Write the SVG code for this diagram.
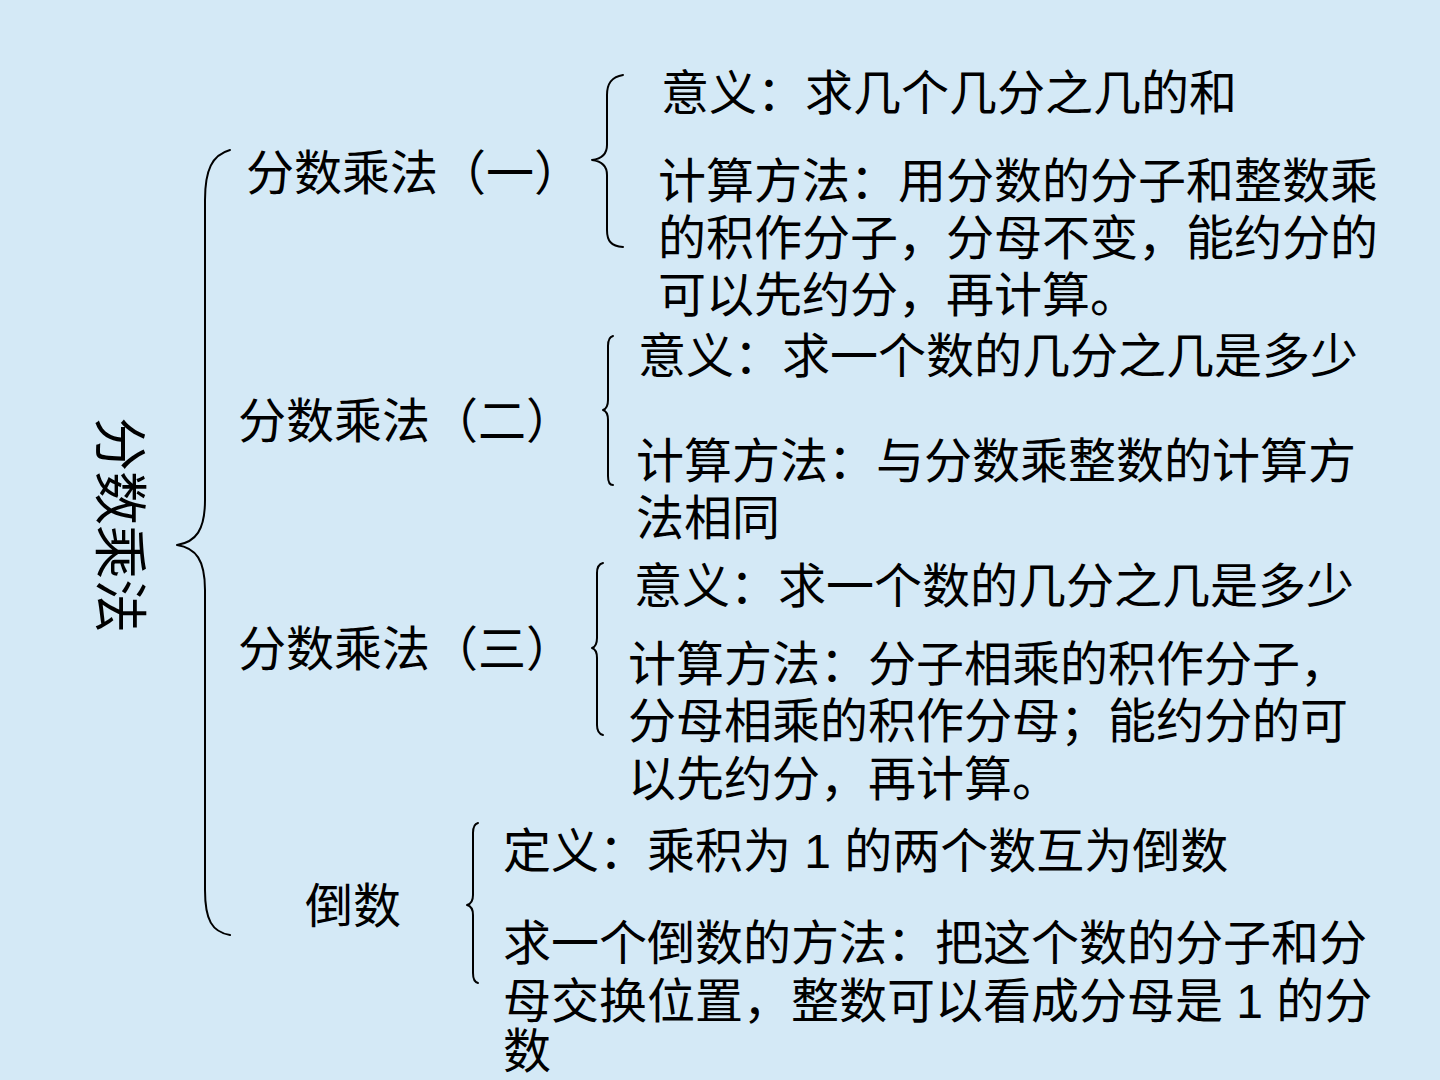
<svg xmlns="http://www.w3.org/2000/svg" width="1440" height="1080" viewBox="0 0 1440 1080">
<style>
.t{font-family:"Liberation Sans","Noto Sans CJK SC",sans-serif;font-size:48px;fill:#000;}
.title{font-family:"Noto Sans CJK SC",sans-serif;font-size:54px;fill:#000;}
.br{fill:none;stroke:#000;stroke-width:2;stroke-linecap:round;stroke-linejoin:round;}
</style>
<rect x="0" y="0" width="1440" height="1080" fill="#d4e9f6"/>
<g id="connectors">
<path class="br" d="M230,150 C212,155 205,170 205,200 L205,500 C205,530 196,542 177,545 C196,548 205,560 205,590 L205,890 C205,920 212,932 230,935"/>
<path class="br" d="M623,75 C611,77 607,84 607,95 L607,145 C607,155 600,159 592,160 C600,161 607,165 607,175 L607,230 C607,241 611,246 623,247"/>
<path class="br" d="M613,336 C609,337 608,340 608,346 L608,400 C608,406 606,409 603,410 C606,411 608,414 608,420 L608,476 C608,482 609,485 613,485"/>
<path class="br" d="M603,563 C599,564 597,567 597,573 L597,638 C597,644 595,647 592,648 C595,649 597,652 597,658 L597,725 C597,731 599,734 603,735"/>
<path class="br" d="M478,823 C474,824 473,827 473,833 L473,895 C473,901 471,904 467,905 C471,906 473,909 473,915 L473,973 C473,979 474,982 478,983"/>
</g>
<g id="root">
<text class="title" transform="translate(120,525) rotate(90)" x="0" y="20" text-anchor="middle">分数乘法</text>
</g>
<g id="n1">
<text class="t" x="246" y="190">分数乘法（一）</text>
</g>
<g id="n1a">
<text class="t" x="661" y="110">意义：求几个几分之几的和</text>
</g>
<g id="n1b">
<text class="t" x="658" y="198">计算方法：用分数的分子和整数乘</text>
<text class="t" x="658" y="255">的积作分子，分母不变，能约分的</text>
<text class="t" x="658" y="312">可以先约分，再计算。</text>
</g>
<g id="n2">
<text class="t" x="238" y="438">分数乘法（二）</text>
</g>
<g id="n2a">
<text class="t" x="638" y="373">意义：求一个数的几分之几是多少</text>
</g>
<g id="n2b">
<text class="t" x="636" y="478">计算方法：与分数乘整数的计算方</text>
<text class="t" x="636" y="535">法相同</text>
</g>
<g id="n3">
<text class="t" x="238" y="666">分数乘法（三）</text>
</g>
<g id="n3a">
<text class="t" x="634" y="603">意义：求一个数的几分之几是多少</text>
</g>
<g id="n3b">
<text class="t" x="628" y="681">计算方法：分子相乘的积作分子，</text>
<text class="t" x="628" y="738">分母相乘的积作分母；能约分的可</text>
<text class="t" x="628" y="796">以先约分，再计算。</text>
</g>
<g id="n4">
<text class="t" x="305" y="923">倒数</text>
</g>
<g id="n4a">
<text class="t" x="503" y="868">定义：乘积为 1 的两个数互为倒数</text>
</g>
<g id="n4b">
<text class="t" x="503" y="960">求一个倒数的方法：把这个数的分子和分</text>
<text class="t" x="503" y="1018">母交换位置，整数可以看成分母是 1 的分</text>
<text class="t" x="503" y="1068">数</text>
</g>
</svg>
